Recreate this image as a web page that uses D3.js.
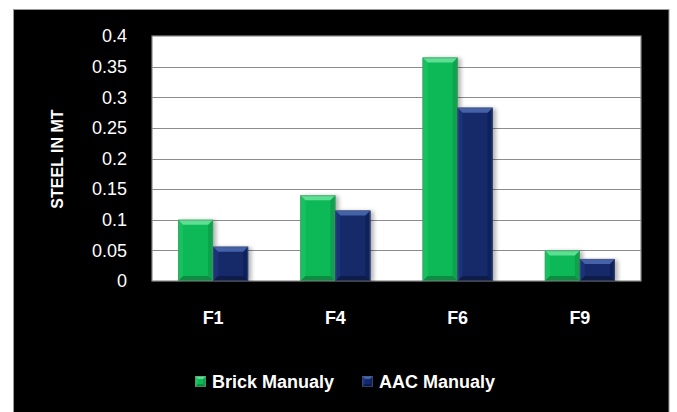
<!DOCTYPE html>
<html>
<head>
<meta charset="utf-8">
<script src="https://cdn.jsdelivr.net/npm/d3@7/dist/d3.min.js"></script>
<style>
  html, body { margin: 0; padding: 0; background: #ffffff; }
  svg { display: block; }
  text { font-family: "Liberation Sans", Arial, sans-serif; fill: #ffffff; }
</style>
</head>
<body>
<svg id="chart" width="677" height="412"></svg>
<script>
// Steel quantity per floor type, in metric tonnes
const categories = ["F1", "F4", "F6", "F9"];
const seriesNames = ["Brick Manualy", "AAC Manualy"];
const brickManualy = [0.1, 0.14, 0.365, 0.05];
const aacManualy = [0.056, 0.115, 0.283, 0.036];
const yTicks = [0, 0.05, 0.1, 0.15, 0.2, 0.25, 0.3, 0.35, 0.4];
const yTickLabels = ["0", "0.05", "0.1", "0.15", "0.2", "0.25", "0.3", "0.35", "0.4"];
const yTitle = "STEEL IN MT";

const palette = {
  "Brick Manualy": { face: "#10b957", top: "#5ddf93", left: "#17c260", right: "#0ca24c", bottom: "#088c42", edge: "#5f8f72" },
  "AAC Manualy":   { face: "#14296b", top: "#4462a8", left: "#1a337a", right: "#10235d", bottom: "#0b1a4a", edge: "#4a5676" }
};

const svg = d3.select("#chart");

// Dark frame behind the whole chart
svg.append("rect")
  .attr("x", 13.5).attr("y", 9.5)
  .attr("width", 655.5).attr("height", 410)
  .attr("fill", "#000000")
  .attr("stroke", "#9a9a9a").attr("stroke-width", 1);

const plot = { left: 152, right: 641, top: 36, bottom: 281 };

const x0 = d3.scaleBand()
  .domain(categories)
  .range([plot.left, plot.right])
  .paddingInner(0.427)
  .paddingOuter(0.2135);

const x1 = d3.scaleBand()
  .domain(seriesNames)
  .range([0, x0.bandwidth()]);

const y = d3.scaleLinear()
  .domain([0, 0.4])
  .range([plot.bottom, plot.top]);

const defs = svg.append("defs");
const shadow = defs.append("filter").attr("id", "barShadow")
  .attr("x", "-20%").attr("y", "-10%").attr("width", "160%").attr("height", "130%");
shadow.append("feGaussianBlur").attr("in", "SourceAlpha").attr("stdDeviation", 2.2);
shadow.append("feOffset").attr("dx", 3).attr("dy", 1).attr("result", "off");
shadow.append("feComponentTransfer").append("feFuncA").attr("type", "linear").attr("slope", 0.3);
const merge = shadow.append("feMerge");
merge.append("feMergeNode");
merge.append("feMergeNode").attr("in", "SourceGraphic");

// Plot area
svg.append("rect")
  .attr("x", plot.left).attr("y", plot.top)
  .attr("width", plot.right - plot.left).attr("height", plot.bottom - plot.top)
  .attr("fill", "#ffffff")
  .attr("stroke", "#8a8a8a").attr("stroke-width", 1.2);

// Horizontal gridlines
svg.append("g")
  .selectAll("line")
  .data(yTicks.filter(d => d > 0 && d < 0.4))
  .join("line")
  .attr("x1", plot.left).attr("x2", plot.right)
  .attr("y1", d => Math.round(y(d)) + 0.5).attr("y2", d => Math.round(y(d)) + 0.5)
  .attr("stroke", "#8c8c8c").attr("stroke-width", 1);

// Y axis tick labels
const yAxis = d3.axisLeft(y)
  .tickValues(yTicks)
  .tickFormat((d, i) => yTickLabels[i])
  .tickSize(0)
  .tickPadding(0);
const yAxisG = svg.append("g")
  .attr("transform", `translate(${plot.left - 25},0)`)
  .call(yAxis);
yAxisG.select(".domain").remove();
yAxisG.selectAll("text")
  .attr("fill", "#ffffff")
  .style("font-family", "'Liberation Sans', Arial, sans-serif")
  .style("font-size", "18px");

// Y axis title
svg.append("text")
  .attr("transform", `translate(63,159) rotate(-90)`)
  .attr("text-anchor", "middle")
  .style("font-size", "16px")
  .style("font-weight", "bold")
  .text(yTitle);

// X axis category labels
const xAxis = d3.axisBottom(x0).tickSize(0).tickPadding(0);
const xAxisG = svg.append("g")
  .attr("transform", `translate(0,${plot.bottom + 30})`)
  .call(xAxis);
xAxisG.select(".domain").remove();
xAxisG.selectAll("text")
  .attr("fill", "#ffffff")
  .style("font-family", "'Liberation Sans', Arial, sans-serif")
  .style("font-size", "18px")
  .style("font-weight", "bold");

// Bevelled bar drawn as face plus four edge facets
function bevelBar(g, bx, by, bw, bh, col, b) {
  b = Math.min(b, bw / 3, bh / 2);
  const pts = a => a.map(p => p.join(",")).join(" ");
  g.append("rect").attr("x", bx).attr("y", by).attr("width", bw).attr("height", bh).attr("fill", col.face);
  g.append("polygon").attr("points", pts([[bx, by], [bx + b, by + b], [bx + b, by + bh - b], [bx, by + bh]])).attr("fill", col.left);
  g.append("polygon").attr("points", pts([[bx + bw, by], [bx + bw - b, by + b], [bx + bw - b, by + bh - b], [bx + bw, by + bh]])).attr("fill", col.right);
  g.append("polygon").attr("points", pts([[bx, by + bh], [bx + b, by + bh - b], [bx + bw - b, by + bh - b], [bx + bw, by + bh]])).attr("fill", col.bottom);
  g.append("polygon").attr("points", pts([[bx, by], [bx + bw, by], [bx + bw - b, by + b], [bx + b, by + b]])).attr("fill", col.top);
  g.append("rect").attr("x", bx + 0.5).attr("y", by + 0.5).attr("width", bw - 1).attr("height", bh - 1)
    .attr("fill", "none").attr("stroke", col.edge).attr("stroke-width", 1).attr("stroke-opacity", 0.6);
}

const barData = categories.flatMap((c, i) => [
  { cat: c, series: seriesNames[0], value: brickManualy[i] },
  { cat: c, series: seriesNames[1], value: aacManualy[i] }
]);

const barsG = svg.append("g");
barData.forEach(d => {
  const g = barsG.append("g").attr("filter", "url(#barShadow)");
  const bx = x0(d.cat) + x1(d.series);
  const by = y(d.value);
  bevelBar(g, bx, by, x1.bandwidth(), plot.bottom - by, palette[d.series], 5);
});

// Legend
const legendItems = [
  { name: seriesNames[0], x: 195 },
  { name: seriesNames[1], x: 362 }
];
const legend = svg.append("g");
legendItems.forEach(it => {
  const g = legend.append("g");
  bevelBar(g, it.x, 376, 11, 11, palette[it.name], 3);
  legend.append("text")
    .attr("x", it.x + 17).attr("y", 388)
    .style("font-size", "18px")
    .style("font-weight", "bold")
    .text(it.name);
});
</script>
</body>
</html>
